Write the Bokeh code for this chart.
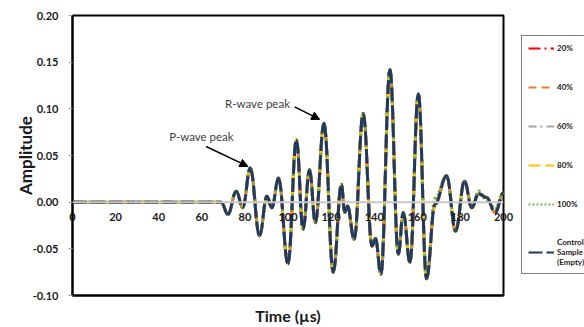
from bokeh.plotting import figure
from bokeh.layouts import row
from bokeh.models import (ColumnDataSource, Range1d, FixedTicker, Legend, LegendItem,
                          Label, Arrow, NormalHead, PrintfTickFormatter, Span)
from bokeh.embed import file_html
from bokeh.resources import INLINE

# ---------------- data ----------------
time_us = [0, 69, 72.1, 76, 79, 82.5, 86.8, 90.2, 92.5, 95.6, 100, 103.9, 107, 110, 112.7,
           116.7, 121, 124.8, 126.3, 127.6, 130.7, 134.9, 139, 140.6, 143.1, 147.3, 151.2,
           153.5, 156.6, 160.5, 164.3, 168.2, 173.6, 177.8, 181.9, 185.3, 188.4, 192.2,
           196.1, 200]
amp_control = [0, 0, -0.013, 0.0117, -0.006, 0.0366, -0.036, 0.0064, -0.006, 0.026, -0.066,
               0.0667, -0.029, 0.0348, -0.022, 0.0845, -0.075, 0.0188, -0.011, -0.004, -0.040,
               0.095, -0.047, -0.039, -0.077, 0.142, -0.0556, -0.011, -0.0645, 0.116, -0.082,
               -0.0025, 0.0284, -0.031, 0.0223, -0.006, 0.009, 0.005, -0.011, 0.010]
amp_20 = list(amp_control)
amp_40 = list(amp_control)
amp_60 = list(amp_control)
amp_80 = list(amp_control)
amp_100 = [0, 0, -0.013, 0.0117, -0.006, 0.0366, -0.036, 0.0064, -0.006, 0.026, -0.066,
           0.0667, -0.029, 0.0348, -0.022, 0.0845, -0.075, 0.0188, -0.011, -0.004, -0.040,
           0.095, -0.047, -0.039, -0.077, 0.142, -0.0556, -0.011, -0.0645, 0.116, -0.082,
           0.004, 0.0284, -0.031, 0.0223, -0.004, 0.012, 0.002, -0.007, 0.010]

x_ticks = [0, 20, 40, 60, 80, 100, 120, 140, 160, 180, 200]
y_ticks = [-0.10, -0.05, 0.00, 0.05, 0.10, 0.15, 0.20]

series_labels = ["20%", "40%", "60%", "80%", "100%", "Control\nSample\n(Empty)"]
series_values = [amp_20, amp_40, amp_60, amp_80, amp_100, amp_control]
series_colors = ["#FF0000", "#ED7D31", "#A5A5A5", "#FFC000", "#70AD47", "#1F3864"]
series_dashes = ["12 4 2 4", "8 5", "8 4 2 4", "12 5", "2 2", "14 4"]

p_label = ("P-wave peak", 44.9, 0.0702)
r_label = ("R-wave peak", 70.8, 0.1057)
p_arrow = (62.0, 0.0596, 81.4, 0.0383)
r_arrow = (103.1, 0.1021, 114.7, 0.0887)

FONT = "Lato"

p = figure(width=515, height=327, output_backend="svg", toolbar_location=None,
           x_range=Range1d(0, 200), y_range=Range1d(-0.10, 0.20),
           min_border_left=72, min_border_top=15, min_border_right=12, min_border_bottom=30,
           background_fill_color="white", border_fill_color="white")
p.xgrid.visible = False
p.ygrid.visible = False
p.outline_line_color = "black"
p.outline_line_width = 2

# zero line
p.add_layout(Span(location=0, dimension="width", line_color="#C8C8C8", line_width=2))

# x axis: tick labels lifted up to sit under the zero line
xa = p.xaxis[0]
xa.ticker = FixedTicker(ticks=x_ticks)
xa.axis_line_color = "black"
xa.axis_line_width = 2
xa.major_tick_out = 0
xa.major_tick_in = 0
xa.minor_tick_out = 0
xa.minor_tick_in = 0
xa.major_label_standoff = -83
xa.major_label_text_font = FONT
xa.major_label_text_font_style = "bold"
xa.major_label_text_font_size = "11px"
xa.major_label_text_color = "#1a1a1a"
xa.axis_label = "Time (µs)"
xa.axis_label_text_font = FONT
xa.axis_label_text_font_style = "bold"
xa.axis_label_text_font_size = "16px"
xa.axis_label_text_color = "#1a1a1a"
xa.axis_label_standoff = 82

ya = p.yaxis[0]
ya.ticker = FixedTicker(ticks=y_ticks)
ya.formatter = PrintfTickFormatter(format="%.2f")
ya.axis_line_color = "black"
ya.axis_line_width = 2
ya.major_tick_out = 4
ya.major_tick_in = 0
ya.major_tick_line_color = "#A0A0A0"
ya.minor_tick_out = 0
ya.minor_tick_in = 0
ya.major_label_standoff = 10
ya.major_label_text_font = FONT
ya.major_label_text_font_style = "bold"
ya.major_label_text_font_size = "11px"
ya.major_label_text_color = "#1a1a1a"
ya.axis_label = "Amplitude"
ya.axis_label_text_font = FONT
ya.axis_label_text_font_style = "bold"
ya.axis_label_text_font_size = "17px"
ya.axis_label_text_color = "#1a1a1a"
ya.axis_label_standoff = -6

# smooth curves through read points using cubic Bezier segments
def bez_source(xs, ys):
    x0, y0, x1, y1, cx0, cy0, cx1, cy1 = [], [], [], [], [], [], [], []
    for i in range(len(xs) - 1):
        dx = xs[i + 1] - xs[i]
        x0.append(xs[i]); y0.append(ys[i]); x1.append(xs[i + 1]); y1.append(ys[i + 1])
        cx0.append(xs[i] + 0.4 * dx); cy0.append(ys[i])
        cx1.append(xs[i + 1] - 0.4 * dx); cy1.append(ys[i + 1])
    return ColumnDataSource(dict(x0=x0, y0=y0, x1=x1, y1=y1, cx0=cx0, cy0=cy0, cx1=cx1, cy1=cy1))

# separate legend figure (no axes, frame = whole figure)
pl = figure(width=69, height=327, output_backend="svg", toolbar_location=None,
            x_range=Range1d(0, 1), y_range=Range1d(0, 1), min_border=0,
            x_axis_location=None, y_axis_location=None,
            outline_line_color=None, background_fill_color="white", border_fill_color="white")
pl.grid.visible = False

items = []
for lab, vals, col, dash in zip(series_labels, series_values, series_colors, series_dashes):
    src = bez_source(time_us, vals)
    p.bezier(x0="x0", y0="y0", x1="x1", y1="y1", cx0="cx0", cy0="cy0", cx1="cx1", cy1="cy1",
             source=src, line_color=col, line_width=3, line_dash=dash)
    lr = pl.line(x=[-5, -4], y=[-5, -4], line_color=col, line_width=2, line_dash=dash)
    items.append(LegendItem(label=lab, renderers=[lr]))

legend = Legend(items=items, location=(6, 21), margin=0, border_line_color="black",
                border_line_width=1,
                label_text_font=FONT, label_text_font_style="bold", label_text_font_size="8px",
                label_text_color="#1a1a1a", glyph_width=26, glyph_height=10, label_height=12,
                spacing=27, padding=6, label_standoff=3, background_fill_alpha=1)
pl.add_layout(legend, "center")

for txt, lx, ly in [p_label, r_label]:
    p.add_layout(Label(x=lx, y=ly, text=txt, text_font=FONT, text_font_size="11.5px",
                       text_color="#404040", text_baseline="middle", text_align="left"))
for (ax0, ay0, ax1, ay1) in [p_arrow, r_arrow]:
    p.add_layout(Arrow(x_start=ax0, y_start=ay0, x_end=ax1, y_end=ay1, line_color="black",
                       line_width=1.5, end=NormalHead(size=8, fill_color="black", line_color="black")))

layout = row(p, pl)
open("out.html", "w").write(file_html(layout, INLINE))
